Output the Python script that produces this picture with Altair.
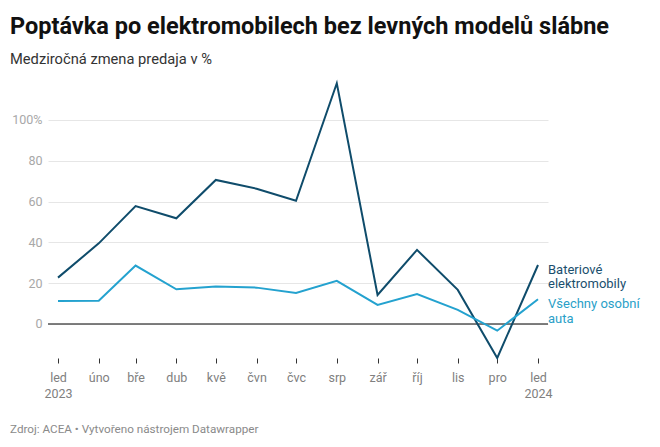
import altair as alt
import pandas as pd

months = ["2023-01-01", "2023-02-01", "2023-03-01", "2023-04-01", "2023-05-01",
          "2023-06-01", "2023-07-01", "2023-08-01", "2023-09-01", "2023-10-01",
          "2023-11-01", "2023-12-01", "2024-01-01"]
bev = [22.7, 39.5, 57.8, 51.8, 70.6, 66.3, 60.4, 118.0, 14.2, 36.3, 16.7, -16.7, 28.9]
all_cars = [11.3, 11.4, 28.6, 17.0, 18.3, 17.8, 15.2, 21.1, 9.3, 14.6, 6.9, -3.3, 12.1]
series_names = ["Bateriové elektromobily", "Všechny osobní auta"]
series_labels = [["Bateriové", "elektromobily"], ["Všechny osobní", "auta"]]
month_abbr = ["led", "úno", "bře", "dub", "kvě", "čvn", "čvc", "srp", "zář", "říj", "lis", "pro"]
y_ticks = [0, 20, 40, 60, 80, 100]

colors = ["#0f4c6b", "#24a2cf"]
label_colors = ["#1b4f6e", "#2a9fc8"]

rows = []
for m, a, b in zip(months, bev, all_cars):
    rows.append({"date": m, "value": a, "series": series_names[0]})
    rows.append({"date": m, "value": b, "series": series_names[1]})
df = pd.DataFrame(rows)

ends = pd.DataFrame([
    {"date": months[-1], "value": bev[-1], "series": series_names[0], "label": series_labels[0]},
    {"date": months[-1], "value": all_cars[-1], "series": series_names[1], "label": series_labels[1]},
])

def ms(s):
    return int(pd.Timestamp(s, tz="UTC").timestamp() * 1000)

day = 86400000
pad_days = 7.6
x_domain = [ms(months[0]) - int(pad_days * day), ms(months[-1]) + int(pad_days * day)]
x_values = [ms(m) for m in months]

arr = "[" + ",".join("'" + m + "'" for m in month_abbr) + "]"
label_expr = ("utcmonth(datum.value) == 0 ? ['led', '' + utcyear(datum.value)] : "
              + arr + "[utcmonth(datum.value)]")

x_scale = alt.Scale(type="utc", domain=x_domain, nice=False)
y_scale = alt.Scale(domain=[-16.7, 119.6], nice=False, zero=False)

x_axis = alt.Axis(values=x_values, labelExpr=label_expr, title=None,
                  domain=False, grid=False, ticks=True, tickSize=5,
                  tickColor="#333333", tickWidth=1, labelPadding=8,
                  labelColor="#808080", labelFontSize=12.5,
                  labelLineHeight=16, labelFont="Roboto")
y_axis = alt.Axis(values=y_ticks, title=None, domain=False, ticks=False,
                  grid=True, gridColor="#e6e6e6", labelColor="#a8a8a8",
                  labelFontSize=12.5, labelPadding=6, labelFont="Roboto",
                  labelExpr="datum.value == 100 ? '100%' : datum.label")

color_enc = alt.Color("series:N", scale=alt.Scale(domain=series_names, range=colors), legend=None)

lines = alt.Chart(df).mark_line(strokeWidth=2, interpolate="linear").encode(
    x=alt.X("date:T", scale=x_scale, axis=x_axis),
    y=alt.Y("value:Q", scale=y_scale, axis=y_axis),
    color=color_enc,
)

zero = alt.Chart(pd.DataFrame({"value": [0]})).mark_rule(color="#555555", strokeWidth=1.5).encode(
    y=alt.Y("value:Q", scale=y_scale, axis=y_axis), x=alt.value(0), x2=alt.value(500)
)

labels = alt.Chart(ends).mark_text(align="left", baseline="top", dx=10, dy=-1,
                                   fontSize=13, font="Roboto", lineHeight=14.5).encode(
    x=alt.X("date:T", scale=x_scale, axis=x_axis),
    y=alt.Y("value:Q", scale=y_scale, axis=y_axis),
    text="label",
    color=alt.Color("series:N", scale=alt.Scale(domain=series_names, range=label_colors), legend=None),
)

footer = alt.Chart(pd.DataFrame({"t": ["Zdroj: ACEA • Vytvořeno nástrojem Datawrapper"]})).mark_text(
    align="left", baseline="middle", fontSize=11.7, font="Roboto", color="#8a8a8a"
).encode(x=alt.value(-38), y=alt.value(349), text="t")

chart = alt.layer(zero, lines, labels, footer).properties(
    width=500, height=278,
    padding={"left": 2, "top": 7, "right": 5, "bottom": 5},
    title=alt.TitleParams(
        text="Poptávka po elektromobilech bez levných modelů slábne",
        subtitle="Medziročná zmena predaja v %",
        anchor="start", font="Roboto", fontSize=23.5, fontWeight="bold", color="#111111",
        subtitleFont="Roboto", subtitleFontSize=14.7, subtitleColor="#333333",
        subtitlePadding=13, offset=13, frame="bounds",
    ),
).resolve_scale(color="independent").configure(
    background="white", view=alt.ViewConfig(stroke="transparent", strokeWidth=0)
)

chart.save("out.html", embed_options={"renderer": "svg", "actions": False})
